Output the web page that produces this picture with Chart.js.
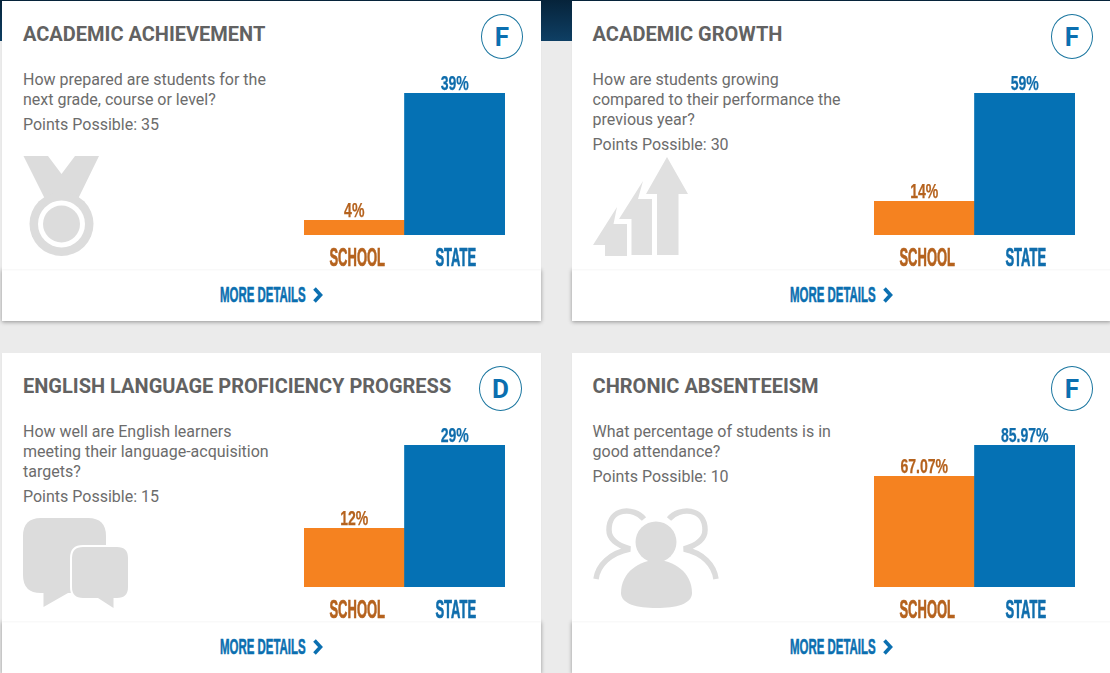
<!DOCTYPE html>
<html><head><meta charset="utf-8">
<script src="https://cdn.jsdelivr.net/npm/chart.js@4/dist/chart.umd.min.js"></script>
<style>
html,body{margin:0;padding:0;width:1110px;height:673px;overflow:hidden;background:#ebebeb}
body{position:relative;font-family:Roboto,sans-serif}
#head{position:absolute;left:0;top:0;width:1110px;height:41px;background:linear-gradient(180deg,#06233a 0%,#0e3f64 100%)}
.foot{position:absolute;width:539px;height:52px;background:#fff;box-shadow:0 1px 4px rgba(0,0,0,.38)}
.top{position:absolute;width:539px;height:269px;background:#fff;box-shadow:0 1px 2px rgba(0,0,0,.04)}
.t{position:absolute;white-space:nowrap}
.title{font-size:20px;line-height:24px;font-weight:700;color:#626262}
.body{font-size:16px;line-height:20px;color:#6c6c6c}
.grade{position:absolute;width:40px;height:43px;border:1px solid #19759f;border-radius:50%;color:#0b6fb0;font:700 26px/44px Roboto,sans-serif;text-align:center}
.more{position:absolute;font:700 22px/24px "Liberation Sans",sans-serif;color:#0b6fb0;transform:scaleX(.52);transform-origin:0 0;white-space:nowrap;-webkit-text-stroke:.6px #0b6fb0}
canvas{position:absolute}
svg{position:absolute;left:0;top:0;pointer-events:none}
</style></head>
<body>
<div id="head"></div>
<div id="cards"></div>
<script>
const categories = ['SCHOOL','STATE'];
const titles = ['ACADEMIC ACHIEVEMENT','ACADEMIC GROWTH','ENGLISH LANGUAGE PROFICIENCY PROGRESS','CHRONIC ABSENTEEISM'];
const grades = ['F','F','D','F'];
const questions = [
  ['How prepared are students for the','next grade, course or level?'],
  ['How are students growing','compared to their performance the','previous year?'],
  ['How well are English learners','meeting their language-acquisition','targets?'],
  ['What percentage of students is in','good attendance?']
];
const pointsPossible = [35,30,15,10];
const schoolValues = [4,14,12,67.07];
const stateValues = [39,59,29,85.97];
const barColors = ['#f58220','#0571b4'];
const labelColors = ['#b5621d','#0f6dac'];

const condense = {
  id:'condense',
  beforeDraw(chart){
    const c = chart.ctx, orig = c.fillText.bind(c);
    c.narrow = 0.52; c.heavy = 0.7;
    if(!c.patched){
      c.patched = true;
      c.fillText = function(s,x,y){
        const k = categories.indexOf(s);
        c.save(); c.translate(x+(k===0?3:k===1?1:0),y); c.scale(c.narrow,1);
        c.strokeStyle = c.fillStyle; c.lineWidth = c.heavy; c.strokeText(s,0,0);
        orig(s,0,0); c.restore();
      };
    }
  },
  afterDatasetsDraw(chart){
    const c = chart.ctx, ds = chart.data.datasets[0];
    c.save();
    c.narrow = 0.67; c.heavy = 0.25;
    c.font = '700 21px "Liberation Sans",sans-serif';
    c.textAlign='center'; c.textBaseline='alphabetic';
    chart.getDatasetMeta(0).data.forEach((bar,i)=>{
      c.fillStyle = labelColors[i];
      c.fillText(ds.data[i]+'%', bar.x, bar.y-3);
    });
    c.restore();
    c.narrow = 0.52; c.heavy = 0.7;
  }
};

const cardsEl = document.getElementById('cards');
titles.forEach((title,i)=>{
  const col = i%2, row = i>>1, X = col?570:0, Y = row?352:0;
  const cardLeft = col?572:2, cardTop = row?353:1;
  const tx = col?592.6:23;
  let h = `<div class="foot" style="left:${cardLeft}px;top:${Y+269}px"></div>`;
  h += `<div class="top" style="left:${cardLeft}px;top:${cardTop}px;height:${Y+269-cardTop}px"></div>`;
  h += `<div class="t title" style="left:${tx}px;top:${Y+22}px">${title}</div>`;
  questions[i].forEach((q,k)=>{ h += `<div class="t body" style="left:${tx}px;top:${Y+70+k*20}px">${q}</div>`; });
  h += `<div class="t body" style="left:${tx}px;top:${Y+75+questions[i].length*20}px">Points Possible: ${pointsPossible[i]}</div>`;
  h += `<div class="grade" style="left:${X+(i==2?479:481)}px;top:${Y+14}px;${i==2?'width:41px':''}">${grades[i]}</div>`;
  h += `<div class="more" style="left:${X+220}px;top:${Y+283}px">MORE DETAILS</div>`;
  cardsEl.insertAdjacentHTML('beforeend',h);
  const cv = document.createElement('canvas');
  cv.width=201; cv.height=200;
  cv.style.left=(X+304)+'px'; cv.style.top=(Y+70)+'px';
  cardsEl.appendChild(cv);
  new Chart(cv,{
    type:'bar',
    data:{labels:categories,datasets:[{data:[schoolValues[i],stateValues[i]],backgroundColor:barColors,borderWidth:0,barPercentage:1,categoryPercentage:1}]},
    options:{
      responsive:false,animation:false,devicePixelRatio:1,
      layout:{padding:{top:23,left:0,right:0,bottom:0}},
      plugins:{legend:{display:false},tooltip:{enabled:false}},
      scales:{
        x:{grid:{display:false},border:{display:false},
           afterFit(s){s.height=35;s.paddingLeft=0;s.paddingRight=0;},
           ticks:{autoSkip:false,maxRotation:0,minRotation:0,padding:1,color:labelColors,font:{family:'"Liberation Sans"',weight:'700',size:25}}},
        y:{display:false,min:0,max:stateValues[i]}
      }
    },
    plugins:[condense]
  });
});

/* decorative icons and chevrons */
const g='#dcdcdc';
const chev = (x,y)=>`<path d="M${x} ${y}l6 6.500l-6 6.500" fill="none" stroke="#0b6fb0" stroke-width="3.600"/>`;
const people = `<circle cx="656" cy="542" r="20.500" fill="${g}"/>
<path d="M621 593C621 572 640 560 656.500 560C673 560 692 572 692 593C692 604 676 608 656.500 608C637 608 621 604 621 593Z" fill="${g}"/>
<g fill="none" stroke="${g}" stroke-width="5.500"><path d="M644 519C634 507 609 507 609 530C609 541 620 546 630 549C610 553 598 565 596 579"/>
<path d="M669 519C679 507 705 507 705 530C705 541 694 546 684 549C703 553 714 565 716 579"/></g>`;
const svg = `<svg width="1110" height="673" viewBox="0 0 1110 673">
<path d="M23.500 156H48L61.500 174L75 156H99L78 199H45Z" fill="${g}"/>
<circle cx="61.500" cy="224" r="32" fill="${g}"/><circle cx="61.500" cy="224" r="23.500" fill="#fff"/><circle cx="61.500" cy="224" r="18.500" fill="${g}"/>
<path d="M667 157L688 194H678.500V255H657V194H646Z" fill="#e0e0e0"/>
<path d="M643 181L638 199H652V255H631.500V219H619Z" fill="#e0e0e0"/>
<path d="M617 207L613.500 224H627V256H605V245H593Z" fill="#e0e0e0"/>
<path d="M41 518H88Q106 518 106 536V575Q106 593 88 593H68L43.500 607V593H41Q23 593 23 575V536Q23 518 41 518Z" fill="${g}"/>
<path d="M83 547H117Q128 547 128 558V587Q128 598 117 598H113.500V608L98 598H83Q72 598 72 587V558Q72 547 83 547Z" fill="${g}" stroke="#fff" stroke-width="4" paint-order="stroke"/>
${people}
${chev(314.500,288.500)}${chev(884.500,288.500)}${chev(314.500,640.500)}${chev(884.500,640.500)}
</svg>`;
cardsEl.insertAdjacentHTML('beforeend',svg);
</script>
</body></html>
